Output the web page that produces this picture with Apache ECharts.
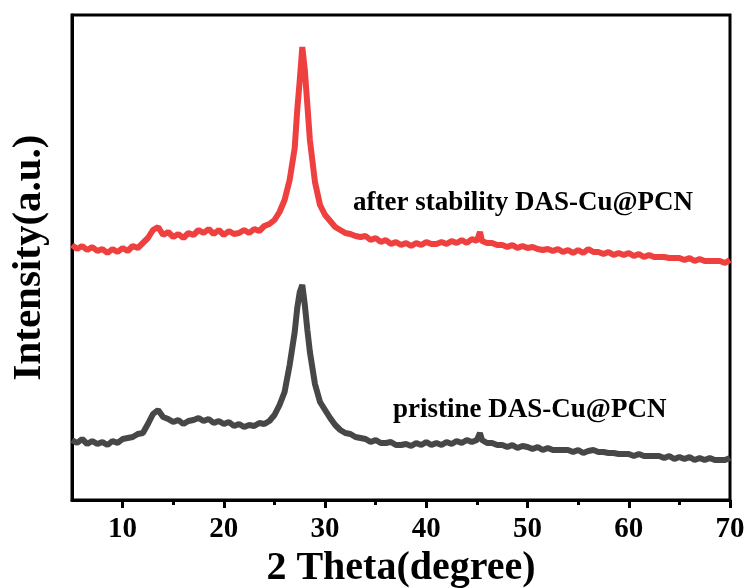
<!DOCTYPE html>
<html>
<head>
<meta charset="UTF-8">
<title>XRD</title>
<script type="text/javascript" src="https://cdn.jsdelivr.net/npm/echarts/dist/echarts.min.js"></script>
<style>
  html, body { margin: 0; padding: 0; background: #fff; }
</style>
</head>
<body>
<div id="main" style="width:749px;height:588px"></div>
<script type="text/javascript">
// 2 theta positions (degree)
var theta = [
  5, 5.5, 6, 6.5, 7, 7.5, 8, 8.5, 9, 9.5,
  10, 10.5, 11, 11.5, 12, 12.5, 13, 13.5, 14, 14.5,
  15, 15.5, 16, 16.5, 17, 17.5, 18, 18.5, 19, 19.5,
  20, 20.5, 21, 21.5, 22, 22.5, 23, 23.5, 24, 24.5,
  25, 25.5, 26, 26.5, 27, 27.25, 27.5, 27.75, 28, 28.25, 28.5, 29, 29.5,
  30, 30.5, 31, 31.5, 32, 32.5, 33, 33.5, 34, 34.5,
  35, 35.5, 36, 36.5, 37, 37.5, 38, 38.5, 39, 39.5,
  40, 40.5, 41, 41.5, 42, 42.5, 43, 43.5, 44, 44.5,
  45, 45.3, 45.5, 46, 46.5, 47, 47.5, 48, 48.5, 49, 49.5,
  50, 50.5, 51, 51.5, 52, 52.5, 53, 53.5, 54, 54.5,
  55, 55.5, 56, 56.5, 57, 57.5, 58, 58.5, 59, 59.5,
  60, 60.5, 61, 61.5, 62, 62.5, 63, 63.5, 64, 64.5,
  65, 65.5, 66, 66.5, 67, 67.5, 68, 68.5, 69, 69.5,
  70
];
// after stability (red), offset upward
var afterStability = [
  255, 251, 254, 250, 253, 249, 251, 247, 251, 248,
  252, 249, 254, 252, 257, 262, 270, 273, 265, 268,
  263, 266, 262, 267, 265, 270, 267, 271, 266, 270,
  265, 269, 266, 267, 270, 267, 271, 269, 274, 276,
  280, 288, 300, 320, 352, 390, 420, 453, 430, 395, 360, 318, 295,
  285, 279, 273, 270, 267, 266, 264, 263, 264, 260,
  262, 258, 260, 256, 258, 255, 257, 254, 257, 255,
  258, 256, 256, 258, 256, 259, 257, 260, 257, 261,
  259, 268, 259, 257, 257, 255, 255, 253, 255, 252, 254,
  252, 253, 251, 250, 251, 249, 251, 248, 250, 247,
  250, 247, 251, 248, 248, 246, 248, 245, 247, 245,
  247, 244, 246, 243, 245, 243, 243, 243, 242, 242,
  242, 240, 242, 239, 241, 239, 239, 239, 239, 237,
  240
];
// pristine (gray)
var pristine = [
  60, 57, 61, 56, 59, 56, 58, 55, 59, 57,
  61, 62, 63, 66, 67, 76, 86, 90, 83, 81,
  78, 80, 76, 79, 80, 82, 79, 81, 77, 79,
  76, 78, 74, 76, 73, 75, 74, 77, 76, 79,
  85, 95, 108, 135, 168, 192, 208, 215, 195, 170, 148, 116, 98,
  90, 82, 75, 70, 67, 66, 63, 62, 61, 58,
  60, 57, 57, 58, 55, 55, 56, 54, 57, 55,
  58, 55, 57, 55, 58, 56, 59, 57, 60, 58,
  60, 67, 60, 57, 57, 55, 55, 53, 55, 52, 54,
  53, 51, 53, 50, 52, 50, 50, 50, 50, 48,
  50, 47, 49, 50, 48, 48, 47, 47, 46, 46,
  46, 44, 46, 44, 44, 44, 44, 42, 44, 41,
  43, 41, 43, 40, 42, 40, 42, 40, 40, 40,
  42
];
var majorTicks = [10, 20, 30, 40, 50, 60, 70];
var minorTicks = [15, 25, 35, 45, 55, 65];
var seriesNames = ['after stability DAS-Cu@PCN', 'pristine DAS-Cu@PCN'];

function pairs(ys) {
  return theta.map(function (t, i) { return [t, ys[i]]; });
}

var FONT = '"Liberation Serif", "Times New Roman", serif';

var myChart = echarts.init(document.getElementById('main'));

var option = {
  animation: false,
  backgroundColor: '#fff',
  grid: {
    left: 72, right: 19, top: 15, bottom: 88,
    containLabel: false,
    outerBoundsMode: 'none',
    show: true,
    borderColor: '#000',
    borderWidth: 3
  },
  xAxis: [
    {
      type: 'value',
      min: 5, max: 70,
      name: '2 Theta(degree)',
      nameLocation: 'middle',
      nameGap: 44,
      nameTextStyle: { fontFamily: FONT, fontWeight: 'bold', fontSize: 40, color: '#000' },
      axisLine: { show: true, lineStyle: { color: '#000', width: 3 } },
      axisTick: { show: true, customValues: majorTicks, length: 8, lineStyle: { color: '#000', width: 3 } },
      axisLabel: { customValues: majorTicks, margin: 15, fontFamily: FONT, fontWeight: 'bold', fontSize: 29, color: '#000' },
      splitLine: { show: false }
    },
    {
      type: 'value',
      min: 5, max: 70,
      position: 'bottom',
      axisLine: { show: false },
      axisTick: { show: true, customValues: minorTicks, length: 5, lineStyle: { color: '#000', width: 3 } },
      axisLabel: { show: false },
      splitLine: { show: false }
    }
  ],
  yAxis: {
    type: 'value',
    min: 0, max: 485,
    name: 'Intensity(a.u.)',
    nameLocation: 'middle',
    nameGap: 22,
    nameTextStyle: { fontFamily: FONT, fontWeight: 'bold', fontSize: 41, color: '#000' },
    axisLine: { show: true, lineStyle: { color: '#000', width: 3 } },
    axisTick: { show: false },
    axisLabel: { show: false },
    splitLine: { show: false }
  },
  graphic: [
    {
      type: 'text', x: 353, y: 203,
      style: { text: seriesNames[0], font: 'bold 27px ' + FONT, fill: '#000', verticalAlign: 'middle' }
    },
    {
      type: 'text', x: 393, y: 410,
      style: { text: seriesNames[1], font: 'bold 27px ' + FONT, fill: '#000', verticalAlign: 'middle' }
    }
  ],
  series: [
    {
      name: seriesNames[0],
      type: 'line',
      showSymbol: false,
      data: pairs(afterStability),
      lineStyle: { color: '#ef4040', width: 6 },
      itemStyle: { color: '#ef4040' }
    },
    {
      name: seriesNames[1],
      type: 'line',
      showSymbol: false,
      data: pairs(pristine),
      lineStyle: { color: '#474747', width: 6 },
      itemStyle: { color: '#474747' }
    }
  ]
};
myChart.setOption(option);
</script>
</body>
</html>
